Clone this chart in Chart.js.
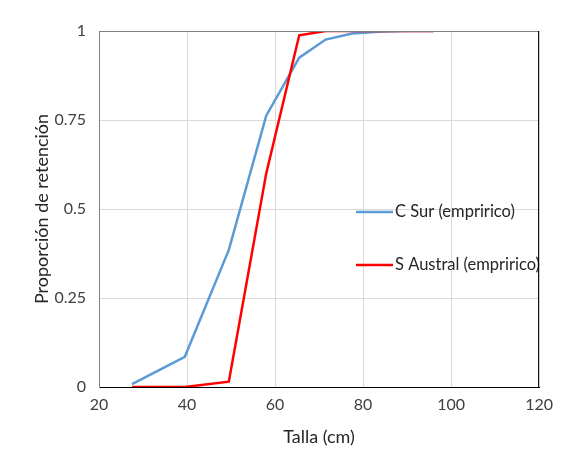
<!DOCTYPE html>
<html>
<head>
<meta charset="utf-8">
<script src="https://cdn.jsdelivr.net/npm/chart.js@4/dist/chart.umd.min.js"></script>
<style>
  html, body { margin: 0; padding: 0; background: #fff; }
  #wrap { width: 561px; height: 463px; }
</style>
</head>
<body>
<div id="wrap"><canvas id="myChart" width="561" height="463"></canvas></div>
<script>
  // tallas (cm)
  var tallas = [27.5, 39.5, 49.5, 58, 65.5, 71.5, 77.5, 83.5, 89.5, 96];
  var cSur = [0.008, 0.085, 0.385, 0.762, 0.925, 0.976, 0.993, 0.998, 1.0, 1.0];
  var sAustral = [0, 0, 0.015, 0.6, 0.988, 1.0, 1.0, 1.0, 1.0, 1.0];
  var seriesNames = ['C Sur (empririco)', 'S Austral (empririco)'];
  var seriesColors = ['#5B9BD5', '#FF0000'];
  var yTicks = [0, 0.25, 0.5, 0.75, 1];

  function toPoints(xs, ys) {
    return xs.map(function(x, i) { return {x: x, y: ys[i]}; });
  }

  var FONT = 'Lato, "Open Sans", sans-serif';

  // leyenda dentro del grafico
  var legendInside = {
    id: 'legendInside',
    afterDatasetsDraw: function(chart) {
      var c = chart.ctx;
      var rows = [212, 265];
      c.save();
      c.font = '16.5px ' + FONT;
      c.textBaseline = 'middle';
      c.fillStyle = '#262626';
      for (var i = 0; i < seriesNames.length; i++) {
        c.strokeStyle = seriesColors[i];
        c.lineWidth = 2.5;
        c.beginPath();
        c.moveTo(356, rows[i]);
        c.lineTo(393, rows[i]);
        c.stroke();
        c.fillText(seriesNames[i], 395, rows[i]);
      }
      c.restore();
    },
    afterDraw: function(chart) {
      var a = chart.chartArea;
      var c = chart.ctx;
      c.save();
      c.lineWidth = 1;
      c.strokeStyle = '#808080';
      c.beginPath();
      c.moveTo(a.left, a.top + 0.5);
      c.lineTo(a.right, a.top + 0.5);
      c.stroke();
      c.strokeStyle = '#000';
      c.beginPath();
      c.moveTo(a.right - 0.5, a.top);
      c.lineTo(a.right - 0.5, a.bottom);
      c.stroke();
      c.restore();
    }
  };

  var ctx = document.getElementById('myChart').getContext('2d');
  var myChart = new Chart(ctx, {
    type: 'line',
    data: {
      datasets: [{
        label: seriesNames[0],
        data: toPoints(tallas, cSur),
        borderColor: seriesColors[0],
        borderWidth: 2.5,
        pointRadius: 0,
        tension: 0,
        order: 2
      }, {
        label: seriesNames[1],
        data: toPoints(tallas, sAustral),
        borderColor: seriesColors[1],
        borderWidth: 2.5,
        pointRadius: 0,
        tension: 0,
        order: 1
      }]
    },
    options: {
      responsive: false,
      animation: false,
      layout: { padding: { left: 0, top: 31, right: 20, bottom: 0 } },
      plugins: {
        legend: { display: false },
        tooltip: { enabled: false }
      },
      scales: {
        x: {
          type: 'linear',
          min: 20,
          max: 120,
          ticks: { stepSize: 20, color: '#404040', font: { family: FONT, size: 16 }, padding: 8 },
          grid: { color: '#d9d9d9', drawTicks: false },
          border: { color: '#000', width: 1 },
          title: { display: true, text: 'Talla (cm)', color: '#262626', font: { family: FONT, size: 18 }, padding: { top: 15, bottom: 15 } },
          afterFit: function(scale) { scale.height = 76; }
        },
        y: {
          min: 0,
          max: 1,
          afterBuildTicks: function(scale) {
            scale.ticks = yTicks.map(function(v) { return {value: v}; });
          },
          ticks: {
            color: '#404040',
            font: { family: FONT, size: 16 },
            padding: 13,
            callback: function(v) { return String(v); }
          },
          grid: { color: '#d9d9d9', drawTicks: false },
          border: { color: '#808080', width: 1 },
          title: { display: true, text: 'Proporción de retención', color: '#262626', font: { family: FONT, size: 18 }, padding: { top: 31, bottom: 31 } },
          afterFit: function(scale) { scale.width = 99; }
        }
      }
    },
    plugins: [legendInside]
  });
</script>
</body>
</html>
